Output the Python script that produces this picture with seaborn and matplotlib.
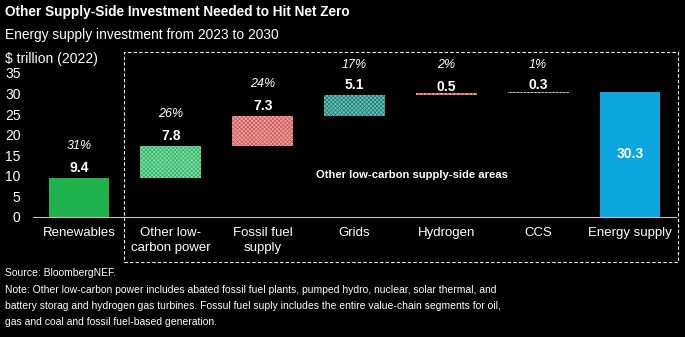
import matplotlib
matplotlib.use("Agg")
import matplotlib.pyplot as plt
import seaborn as sns
import numpy as np
import pandas as pd
from matplotlib.patches import Rectangle

categories = ["Renewables", "Other low-\ncarbon power", "Fossil fuel\nsupply", "Grids",
              "Hydrogen", "CCS", "Energy supply"]
values = [9.4, 7.8, 7.3, 5.1, 0.5, 0.3, 30.3]
bases = [0.0, 9.4, 17.2, 24.5, 29.6, 30.1, 0.0]
shares = ["31%", "26%", "24%", "17%", "2%", "1%", ""]
value_labels = ["9.4", "7.8", "7.3", "5.1", "0.5", "0.3", "30.3"]
yticks = [0, 5, 10, 15, 20, 25, 30, 35]

face_colors = ["#1fb24d", "#8fdaab", "#e8a9a9", "#7fbdb5", "#e8a9a9", "#000000", "#0aa6dd"]
hatch_colors = [None, "#2db86a", "#d45858", "#14857a", "#d45858", "#ffffff", None]
hatches = [None, "xxxxxxxx", "xxxxxxxx", "xxxxxxxx", "xxxxxxxx", "||||||||||||", None]

sns.set_theme(style="dark")
plt.rcParams["font.family"] = ["Liberation Sans", "DejaVu Sans"]
plt.rcParams["hatch.linewidth"] = 0.6

fig = plt.figure(figsize=(6.85, 3.37), dpi=100, facecolor="black")
ax = fig.add_axes([33 / 685, 120.3 / 337, 643 / 685, 143.7 / 337])
ax.set_facecolor("black")

df = pd.DataFrame({"category": categories, "value": values})
sns.barplot(data=df, x="category", y="value", order=categories, bottom=bases,
            width=0.66, ax=ax, color="#1fb24d", linewidth=0, errorbar=None)

for i, p in enumerate(ax.patches):
    p.set_facecolor(face_colors[i])
    p.set_linewidth(0)
    if hatch_colors[i] is not None:
        p.set_edgecolor(hatch_colors[i])
        p.set_hatch(hatches[i])

ax.set_xlim(-0.5, 6.5)
ax.set_ylim(0, 35)
ax.set_yticks(yticks)
ax.set_yticklabels([str(t) for t in yticks])
ax.set_xlabel("")
ax.set_ylabel("")
ax.grid(False)
for s in ["top", "right", "left"]:
    ax.spines[s].set_visible(False)
ax.spines["bottom"].set_color("#bfbfbf")
ax.spines["bottom"].set_linewidth(0.8)
ax.tick_params(axis="y", colors="white", labelsize=10, length=0, pad=9)
ax.tick_params(axis="x", colors="white", labelsize=9.5, length=0, pad=7.5)
for lab in ax.get_xticklabels():
    lab.set_linespacing(1.3)

for i in range(len(categories)):
    top = bases[i] + values[i]
    if i == len(categories) - 1:
        ax.text(i, top / 2, value_labels[i], ha="center", va="center", color="white",
                fontsize=10, fontweight="bold")
        continue
    lab_y = top + 2.4 if values[i] > 1 else top + 1.6
    ax.text(i, lab_y, value_labels[i], ha="center", va="center", color="white",
            fontsize=10, fontweight="bold", clip_on=False)
    pct_y = min(top + 7.8, 36.9)
    ax.text(i, pct_y, shares[i], ha="center", va="center", color="white",
            fontsize=9, fontstyle="italic", clip_on=False)

ax.text(3.63, 10.1, "Other low-carbon supply-side areas", ha="center", va="center",
        color="white", fontsize=8.1, fontweight="bold")

fig.patches.append(Rectangle((124 / 685, 75 / 337), 554 / 685, 210 / 337,
                             transform=fig.transFigure, fill=False, edgecolor="white",
                             linewidth=0.8, linestyle=(0, (3, 2))))

fig.text(5 / 685, 1 - 12 / 337, "Other Supply-Side Investment Needed to Hit Net Zero",
         color="white", fontsize=9.8, fontweight="bold", va="center", ha="left")
fig.text(5 / 685, 1 - 35 / 337, "Energy supply investment from 2023 to 2030",
         color="white", fontsize=9.95, va="center", ha="left")
fig.text(5 / 685, 1 - 59 / 337, "$ trillion (2022)",
         color="white", fontsize=10, va="center", ha="left")

footer_lines = [
    "Source: BloombergNEF.",
    "Note: Other low-carbon power includes abated fossil fuel plants, pumped hydro, nuclear, solar thermal, and",
    "battery storag and hydrogen gas turbines. Fossul fuel suply includes the entire value-chain segments for oil,",
    "gas and coal and fossil fuel-based generation.",
]
footer_y = [273, 290, 306, 322]
for txt, yy in zip(footer_lines, footer_y):
    fig.text(5 / 685, 1 - yy / 337, txt, color="white", fontsize=7.5,
             va="center", ha="left")

fig.savefig("out.png", dpi=100, facecolor="black")
